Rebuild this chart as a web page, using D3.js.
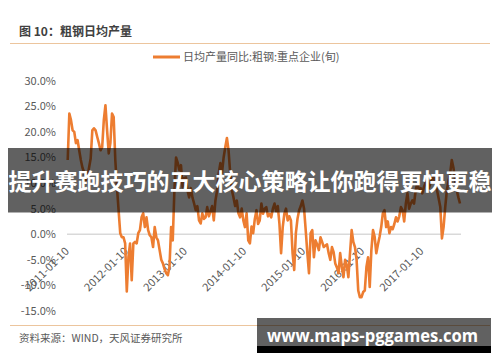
<!DOCTYPE html>
<html>
<head>
<meta charset="utf-8">
<script src="https://cdn.jsdelivr.net/npm/d3@7"></script>
<style>
  body { margin: 0; background: #fff; }
  svg { display: block; }
</style>
</head>
<body>
<svg id="board" width="500" height="362"></svg>
<script>
// ten-day (旬) year-on-year values, one array per year
let values2011 = [14.5, 23.6, 22.3, 20.3, 20, 17.8, 18.4, 16.4, 14.5, 13, 12.1, 10.5,
  11.1, 13, 14.8, 20.3, 20.7, 20.3, 19, 17.8, 16.4, 17, 22.3, 25.2,
  20.3, 15.8, 17.8, 23.6, 22.9, 14.5, 9.2, 4.7, 0.2, -0.6, -0.6, -1.8]
let values2012 = [-11.2, -4.5, -1.8, -9, -1.8, -1.5, -1.8, 0.2, 0.8, 3.3, 4.1, 1.4,
  3.3, 0.8, -0.2, -0.6, -2.5, 1.4, -0.6, -1.2, -3.1, -5, -5.7, -6.8,
  -7.6, -8, -6.4, 1.4, -1.2, 8.6, 15, 14, 12.5, 13.5, 9.2, 11]
let values2013 = [11.1, 8.5, 7.2, 9, 7.2, 6, 4.7, 5.5, 2.7, 2.1, 4.1, 3,
  3.3, 5.3, 3.5, 4.5, 5.5, 2.7, 6.6, 8.5, 11.9, 13.9, 12, 15,
  17, 18.8, 16.4, 11.9, 8.6, 7.2, 5.5, 6.6, 4.1, 3.3, 5, 2.7]
let values2014 = [1.4, 4.1, -1.2, -1.8, 1.5, 0.2, 3, 4.7, 2, 2.7, 6, 4,
  5, 5.3, 3.5, 4, 3.3, 5, 6, 4.5, 5.5, 2, -3.7, 1.4,
  4, 5, 2.7, 3.5, 2.7, -3.7, -7, 0.2, 3, 4.7, 5.5, 6.6]
let values2015 = [5, 0.8, -3.7, -7.6, 0.2, 0.8, -4.5, -1.2, -2, -3.1, -0.6, -1.5,
  -2.5, -2.2, -2, -3.7, -5, -2.5, -3.5, -5.7, -6.5, -7.6, -3.7, -6.4,
  -8.4, -5, -6, -8.4, -3.7, 0.8, -1.5, -2.5, -5, -11, -12.3, -12.3]
let values2016 = [-11.3, -11, -6.4, -4.5, -10.3, -3.1, 0.8, -0.5, -3.7, -2, -0.5, 1.4,
  4.1, 4.7, 1.4, 2.5, 0.2, 1.4, 1, 2, 3.3, 2.5, 3.5, 5.3,
  4.7, 2.5, 6, 8, 5, 6, 6.6, 6, 8.6, 10, 8.5, 9]
let values2017 = [8, 9.2, 10, 10.5, 9, 10, 11, 11.1, 10, 8.6, 7, 5.3,
  -0.8, 1.4, 5.3, 8.6, 10.5, 11.9, 14.5, 13, 10.5, 8.6, 7.2, 6]

let years = [2011, 2012, 2013, 2014, 2015, 2016, 2017]
let yearValues = [values2011, values2012, values2013, values2014, values2015, values2016, values2017]

let xTickLabels = ['2011-01-10', '2012-01-10', '2013-01-10', '2014-01-10',
  '2015-01-10', '2016-01-10', '2017-01-10']
let yTicks = [30, 25, 20, 15, 10, 5, 0, -5, -10, -15]

let titleText = '图 10：粗钢日均产量'
let legendText = '日均产量同比:粗钢:重点企业(旬)'
let sourceText = '资料来源：WIND，天风证券研究所'
let bannerText = '提升赛跑技巧的五大核心策略让你跑得更快更稳'
let watermarkText = 'www.maps-pggames.com'

// dates of each 旬: 10th, 20th and last day of the month
let pad = (n) => (n < 10 ? '0' : '') + n
let data = []
years.forEach((year, yi) => {
    yearValues[yi].forEach((v, i) => {
        let month = Math.floor(i / 3)
        let part = i % 3
        let day = part === 0 ? 10 : part === 1 ? 20 : new Date(year, month + 1, 0).getDate()
        data.push({ date: year + '-' + pad(month + 1) + '-' + pad(day), value: v })
    })
})

let board = d3.select('#board')
let cjk = "'Noto Sans CJK SC', 'Liberation Sans', sans-serif"
let tan = '#ecc59d'
let orange = '#ed7d31'
let grey = '#595959'

let x = d3.scalePoint()
    .domain(data.map(d => d.date))
    .range([67.7, 460])
let y = d3.scaleLinear()
    .domain([-15, 30])
    .range([311, 80.7])

// title and frame lines
board.append('text')
    .attr('x', 19).attr('y', 36)
    .attr('font-family', cjk).attr('font-size', 12).attr('font-weight', 'bold')
    .attr('fill', '#404040')
    .text(titleText)

board.append('line')
    .attr('x1', 10).attr('x2', 490).attr('y1', 43.5).attr('y2', 43.5)
    .attr('stroke', tan).attr('stroke-width', 1)
board.append('line')
    .attr('x1', 10).attr('x2', 490).attr('y1', 325.5).attr('y2', 325.5)
    .attr('stroke', tan).attr('stroke-width', 1)

// legend
board.append('line')
    .attr('x1', 153).attr('x2', 180).attr('y1', 57).attr('y2', 57)
    .attr('stroke', orange).attr('stroke-width', 3)
board.append('text')
    .attr('x', 183).attr('y', 61)
    .attr('font-family', cjk).attr('font-size', 11)
    .attr('fill', grey)
    .text(legendText)

// zero line
board.append('line')
    .attr('x1', 67).attr('x2', 461)
    .attr('y1', y(0)).attr('y2', y(0))
    .attr('stroke', '#d9d9d9').attr('stroke-width', 1.5)

// y axis
let yAxis = board.append('g')
    .attr('transform', 'translate(56,0)')
    .call(d3.axisLeft(y).tickValues(yTicks).tickSize(0).tickPadding(0)
        .tickFormat(d => d.toFixed(1) + '%'))
yAxis.select('.domain').remove()
yAxis.selectAll('text')
    .attr('font-family', cjk).attr('font-size', 11).attr('fill', grey)

// x axis with rotated labels
let xAxis = board.append('g')
    .attr('transform', 'translate(0,250)')
    .call(d3.axisBottom(x).tickValues(xTickLabels).tickSize(0))
xAxis.select('.domain').remove()
xAxis.selectAll('text')
    .attr('x', 0).attr('y', 0).attr('dy', 0)
    .attr('transform', 'translate(1.5,2) rotate(-45)')
    .attr('text-anchor', 'end')
    .attr('font-family', cjk).attr('font-size', 11).attr('fill', grey)

// series line
board.append('path')
    .datum(data)
    .attr('fill', 'none')
    .attr('stroke', orange)
    .attr('stroke-width', 2.6)
    .attr('stroke-linejoin', 'round')
    .attr('d', d3.line().x(d => x(d.date)).y(d => y(d.value)))

// source note
board.append('text')
    .attr('x', 19).attr('y', 342)
    .attr('font-family', cjk).attr('font-size', 10.5)
    .attr('fill', grey)
    .text(sourceText)

// overlay banner
board.append('rect')
    .attr('x', 8).attr('y', 148).attr('width', 484).attr('height', 64.5)
    .attr('fill', 'rgba(0,0,0,0.62)')
board.append('text')
    .attr('x', 250).attr('y', 190)
    .attr('text-anchor', 'middle')
    .attr('font-family', cjk).attr('font-size', 23).attr('font-weight', 'bold')
    .attr('fill', '#fff')
    .text(bannerText)

// watermark box
board.append('rect')
    .attr('x', 257).attr('y', 318).attr('width', 234).attr('height', 28)
    .attr('fill', 'rgba(0,0,0,0.62)')
board.append('rect')
    .attr('x', 257).attr('y', 346).attr('width', 234).attr('height', 7)
    .attr('fill', '#000')
board.append('text')
    .attr('x', 267).attr('y', 342)
    .attr('font-family', "'Open Sans', 'DejaVu Sans', sans-serif")
    .attr('font-size', 18).attr('font-weight', 'bold')
    .attr('textLength', 211).attr('lengthAdjust', 'spacingAndGlyphs')
    .attr('fill', '#fff')
    .text(watermarkText)
</script>
</body>
</html>
